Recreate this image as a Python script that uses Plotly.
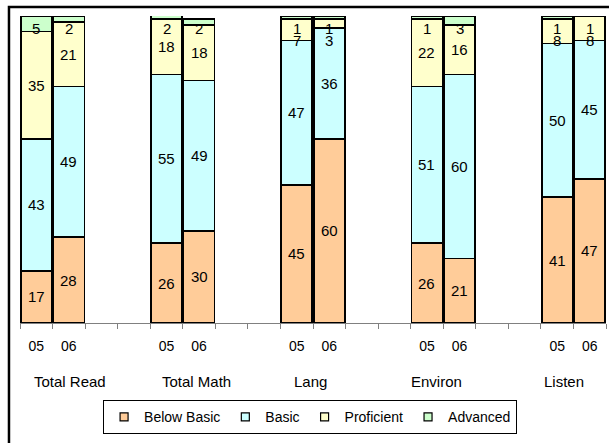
import plotly.graph_objects as go

# ---- data ----
groups = ["Total Read", "Total Math", "Lang", "Environ", "Listen"]
years = ["05", "06"]
below_basic = [17, 28, 26, 30, 45, 60, 26, 21, 41, 47]
basic = [43, 49, 55, 49, 47, 36, 51, 60, 50, 45]
proficient = [35, 21, 18, 18, 7, 3, 22, 16, 8, 8]
advanced = [5, 2, 2, 2, 1, 1, 1, 3, 1, 1]

series = [
    ("Below Basic", below_basic, "#FFCC99"),
    ("Basic", basic, "#CCFFFF"),
    ("Proficient", proficient, "#FFFFCC"),
    ("Advanced", advanced, "#CCFFCC"),
]

# slot positions: each group has two bars then two empty slots
xpos = []
for g in range(len(groups)):
    for k in range(len(years)):
        xpos.append(g * 4 + k)
tick_text = [years[k] for g in range(len(groups)) for k in range(len(years))]
n_slots = (len(groups) - 1) * 4 + 2

FONT = "Liberation Sans, Arial, sans-serif"
fig = go.Figure()

for name, vals, col in series:
    fig.add_trace(go.Bar(
        x=xpos, y=vals, name=name, showlegend=False,
        marker=dict(color=col, line=dict(color="black", width=1.6)),
        hoverinfo="x+y",
    ))
for name, vals, col in series:
    # legend-only entry with a small square symbol
    fig.add_trace(go.Scatter(
        x=[None], y=[None], mode="markers", name=name,
        marker=dict(symbol="square", size=8, color=col,
                    line=dict(color="black", width=1.2)),
    ))

# value labels at segment centres (nudged below the top edge when crowded)
annotations = []
base = [0] * len(xpos)
for si, (name, vals, col) in enumerate(series):
    for i, v in enumerate(vals):
        c = base[i] + v / 2.0
        if si == len(series) - 1:
            c = min(c, 96)
        else:
            c = min(c, 92)
        annotations.append(dict(
            x=xpos[i], y=c, xref="x", yref="y", text=str(v), showarrow=False,
            font=dict(family=FONT, size=15, color="black"),
        ))
        base[i] += v

# group labels under the year ticks
group_label_px = [70, 196, 310, 436, 564]
plot_l, plot_w = 20, 586
for gname, px in zip(groups, group_label_px):
    annotations.append(dict(
        x=(px - plot_l) / plot_w, y=-0.19, xref="paper", yref="paper",
        text=gname, showarrow=False, xanchor="center", yanchor="middle",
        font=dict(family=FONT, size=15, color="black"),
    ))

fig.update_layout(
    width=609, height=443,
    margin=dict(l=20, r=3, t=16, b=120),
    barmode="stack", bargap=0.05,
    plot_bgcolor="white", paper_bgcolor="white",
    font=dict(family=FONT, size=14, color="black"),
    annotations=annotations,
    legend=dict(
        orientation="h", x=0.495, xanchor="center", y=-0.252, yanchor="top",
        bordercolor="black", borderwidth=1, bgcolor="white",
        font=dict(family=FONT, size=14, color="black"),
        itemwidth=30, tracegroupgap=0, traceorder="normal",
    ),
    shapes=[dict(type="rect", xref="paper", yref="paper",
                 x0=-0.0188, x1=1.3, y0=-1.0, y1=1.0293,
                 line=dict(color="black", width=2.5), layer="below")],
)

fig.update_xaxes(
    range=[-0.5, n_slots - 0.5],
    tickvals=xpos, ticktext=tick_text, ticks="",
    ticklabelstandoff=10,
    tickfont=dict(family=FONT, size=14, color="black"),
    showline=True, linecolor="#808080", linewidth=1,
    showgrid=False, zeroline=False,
    minor=dict(tick0=-0.5, dtick=1, ticks="outside", ticklen=5,
               tickcolor="#808080", tickwidth=1, showgrid=False),
)
fig.update_yaxes(range=[0, 100], visible=False, showgrid=False)

fig.write_html(
    "out.html",
    config={"displayModeBar": False},
    post_script="document.body.style.margin='0';document.body.style.overflow='hidden';",
)
